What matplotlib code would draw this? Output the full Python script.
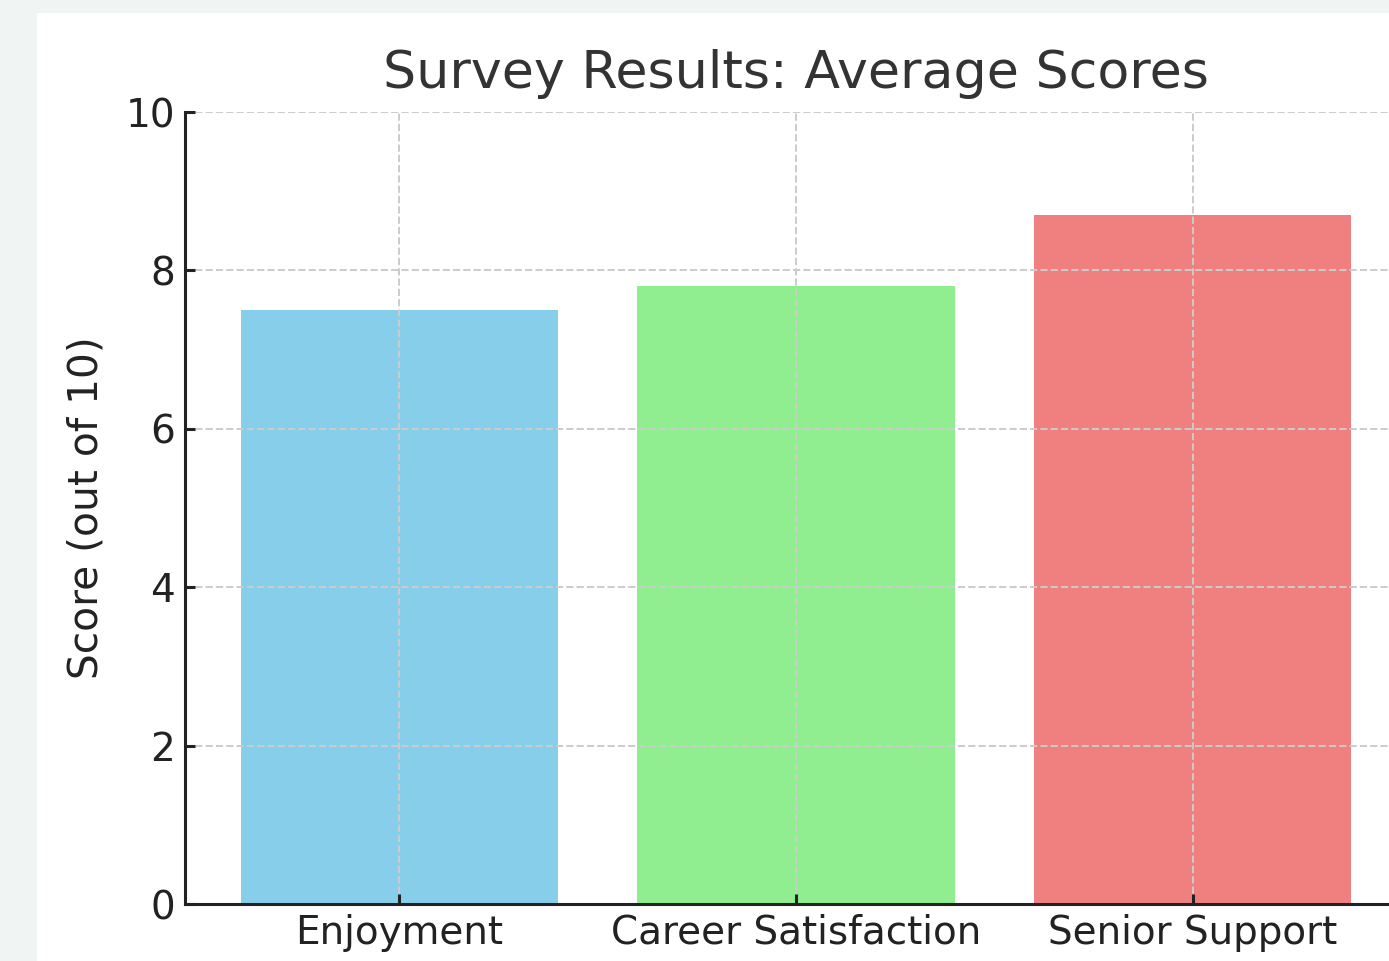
import matplotlib.pyplot as plt
from matplotlib.patches import Rectangle

categories = ['Enjoyment', 'Career Satisfaction', 'Senior Support']
scores = [7.5, 7.8, 8.7]
bar_colors = ['skyblue', 'lightgreen', 'lightcoral']

fig = plt.figure(figsize=(6.945, 4.805), dpi=200)
fig.patch.set_facecolor('#f0f4f2')
# white canvas of the screenshot, offset from the left and top edges
fig.patches.append(Rectangle((37 / 1389, 0), 1, 1 - 13 / 961,
                             transform=fig.transFigure, facecolor='white',
                             edgecolor='none', zorder=-10))

ax = fig.add_axes([185 / 1389, 57 / 961, 1222 / 1389, 792 / 961])
ax.set_facecolor('white')
ax.bar(categories, scores, color=bar_colors, width=0.8)

ax.set_ylim(0, 10)
ax.set_title('Survey Results: Average Scores', fontsize=18.8, color='#333333', pad=8.5)
ax.set_ylabel('Score (out of 10)', fontsize=14.7, color='#222222', labelpad=7)

ax.grid(True, linestyle='--', color='#cccccc', linewidth=0.7)
ax.set_axisbelow(False)
ax.tick_params(direction='in', labelsize=14, colors='#222222', width=1.1)

for side in ['top', 'right']:
    ax.spines[side].set_visible(False)
for side in ['left', 'bottom']:
    ax.spines[side].set_color('#222222')
    ax.spines[side].set_linewidth(1.1)
    ax.spines[side].set_zorder(3)

plt.savefig('out.png', dpi=200)
